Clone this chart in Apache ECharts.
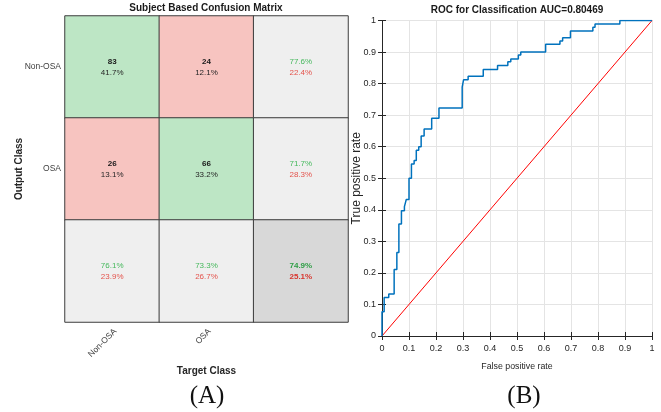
<!DOCTYPE html>
<html>
<head>
<meta charset="utf-8">
<script src="https://cdn.jsdelivr.net/npm/echarts@6/dist/echarts.min.js"></script>
<style>
html,body{margin:0;padding:0;background:#fff;}
#c{width:661px;height:412px;}
</style>
</head>
<body>
<div id="c"></div>
<script>
// ---- Confusion matrix data ----
const classes = ['Non-OSA', 'OSA'];
const counts = [[83, 24], [26, 66]];            // rows: output class, cols: target class
const cellPct = [['41.7%', '12.1%'], ['13.1%', '33.2%']];
const rowCorrect = ['77.6%', '71.7%'];
const rowWrong = ['22.4%', '28.3%'];
const colCorrect = ['76.1%', '73.3%'];
const colWrong = ['23.9%', '26.7%'];
const totalCorrect = '74.9%';
const totalWrong = '25.1%';

// ---- ROC data (step corners) ----
const fpr = [0, 0, 0.008, 0.025, 0.045, 0.055, 0.0625, 0.072, 0.083, 0.09, 0.1, 0.109, 0.119, 0.127, 0.136, 0.145, 0.156, 0.184, 0.211, 0.297, 0.302, 0.319, 0.375, 0.428, 0.466, 0.477, 0.505, 0.514, 0.606, 0.659, 0.669, 0.698, 0.781, 0.789, 0.881, 1.0];
const tpr = [0, 0.077, 0.122, 0.133, 0.211, 0.265, 0.355, 0.397, 0.41, 0.433, 0.5, 0.545, 0.556, 0.589, 0.6, 0.634, 0.656, 0.69, 0.723, 0.789, 0.812, 0.823, 0.845, 0.857, 0.869, 0.878, 0.891, 0.9, 0.925, 0.935, 0.945, 0.967, 0.979, 0.989, 1.0, 1.0];
const chanceX = [0, 1];
const chanceY = [0, 1];

const cmTitle = 'Subject Based Confusion Matrix';
const rocTitle = 'ROC for Classification AUC=0.80469';

const GREEN = '#bde6c5', RED = '#f7c4c0', GRAY = '#efefef', DGRAY = '#d8d8d8';
const cells = [];
const labels = [];
for (let r = 0; r < 3; r++) {
  for (let c = 0; c < 3; c++) {
    let color, txt;
    if (r < 2 && c < 2) {
      color = r === c ? GREEN : RED;
      txt = '{b|' + counts[r][c] + '}\n{n|' + cellPct[r][c] + '}';
    } else if (r < 2) {
      color = GRAY;
      txt = '{g|' + rowCorrect[r] + '}\n{r|' + rowWrong[r] + '}';
    } else if (c < 2) {
      color = GRAY;
      txt = '{g|' + colCorrect[c] + '}\n{r|' + colWrong[c] + '}';
    } else {
      color = DGRAY;
      txt = '{gb|' + totalCorrect + '}\n{rb|' + totalWrong + '}';
    }
    cells.push({ value: [c, r, 1], itemStyle: { color: color } });
    labels.push(txt);
  }
}

const F = '"Liberation Sans", Arial, Helvetica, sans-serif';
const richBase = { fontFamily: F, fontSize: 8, lineHeight: 11 };
const fmt1 = function (v) { return String(Math.round(v * 10) / 10); };

const chart = echarts.init(document.getElementById('c'), null, { renderer: 'canvas' });
chart.setOption({
  backgroundColor: '#ffffff',
  animation: false,
  grid: [
    { left: 65, top: 16, width: 283, height: 306 },
    { left: 382, top: 20.5, width: 270, height: 315.5 }
  ],
  xAxis: [
    {
      type: 'category', gridIndex: 0, data: classes.concat(['']),
      axisLine: { show: false }, axisTick: { show: false },
      axisLabel: { rotate: 45, margin: 5, verticalAlign: 'top', fontSize: 8.5, color: '#404040', fontFamily: F },
      name: 'Target Class', nameLocation: 'middle', nameGap: 44, nameMoveOverlap: false,
      nameTextStyle: { fontWeight: 'bold', fontSize: 10, color: '#262626', fontFamily: F }
    },
    {
      type: 'value', gridIndex: 1, min: 0, max: 1, interval: 0.1,
      axisLine: { show: true, lineStyle: { color: '#262626', width: 1 } },
      axisTick: { show: true, inside: true, length: 4, lineStyle: { color: '#262626' } },
      axisLabel: { margin: 8, fontSize: 9, color: '#262626', fontFamily: F, formatter: fmt1 },
      splitLine: { show: true, lineStyle: { color: '#e4e4e4', width: 1 } },
      name: 'False positive rate', nameLocation: 'middle', nameGap: 26, nameMoveOverlap: false,
      nameTextStyle: { fontSize: 8.8, color: '#262626', fontFamily: F }
    },
    {
      type: 'value', gridIndex: 1, min: 0, max: 1, interval: 0.1, position: 'top',
      axisLine: { show: true, lineStyle: { color: '#262626', width: 1 } },
      axisTick: { show: true, inside: true, length: 4, lineStyle: { color: '#262626' } },
      axisLabel: { show: false }, splitLine: { show: false }
    }
  ],
  yAxis: [
    {
      type: 'category', gridIndex: 0, data: classes.concat(['']), inverse: true,
      axisLine: { show: false }, axisTick: { show: false },
      axisLabel: { margin: 4, fontSize: 8.5, color: '#404040', fontFamily: F },
      name: 'Output Class', nameLocation: 'middle', nameGap: 41, nameMoveOverlap: false,
      nameTextStyle: { fontWeight: 'bold', fontSize: 10, color: '#262626', fontFamily: F }
    },
    {
      type: 'value', gridIndex: 1, min: 0, max: 1, interval: 0.1,
      axisLine: { show: true, lineStyle: { color: '#262626', width: 1 } },
      axisTick: { show: true, inside: true, length: 4, lineStyle: { color: '#262626' } },
      axisLabel: { margin: 6, fontSize: 9, color: '#262626', fontFamily: F, formatter: fmt1 },
      splitLine: { show: true, lineStyle: { color: '#e4e4e4', width: 1 } },
      name: 'True positive rate', nameLocation: 'middle', nameGap: 19, nameMoveOverlap: false,
      nameTextStyle: { fontSize: 12, color: '#262626', fontFamily: F }
    },
    {
      type: 'value', gridIndex: 1, min: 0, max: 1, interval: 0.1, position: 'right',
      axisLine: { show: true, lineStyle: { color: '#262626', width: 1 } },
      axisTick: { show: true, inside: true, length: 4, lineStyle: { color: '#262626' } },
      axisLabel: { show: false }, splitLine: { show: false }
    }
  ],
  series: [
    {
      type: 'heatmap', xAxisIndex: 0, yAxisIndex: 0, data: cells,
      itemStyle: { borderColor: '#3c3c3c', borderWidth: 1 },
      label: {
        show: true,
        formatter: function (p) { return labels[p.dataIndex]; },
        rich: {
          b: Object.assign({}, richBase, { fontWeight: 'bold', color: '#1a1a1a' }),
          n: Object.assign({}, richBase, { color: '#262626' }),
          g: Object.assign({}, richBase, { color: '#45b85c' }),
          r: Object.assign({}, richBase, { color: '#e4534c' }),
          gb: Object.assign({}, richBase, { fontWeight: 'bold', color: '#2e9e45' }),
          rb: Object.assign({}, richBase, { fontWeight: 'bold', color: '#d8342d' })
        }
      },
      emphasis: { disabled: true }
    },
    {
      type: 'line', xAxisIndex: 1, yAxisIndex: 1, step: 'end', symbol: 'none',
      data: fpr.map(function (x, i) { return [x, tpr[i]]; }),
      lineStyle: { color: '#0072bd', width: 1.5 }, z: 5
    },
    {
      type: 'line', xAxisIndex: 1, yAxisIndex: 1, symbol: 'none',
      data: chanceX.map(function (x, i) { return [x, chanceY[i]]; }),
      lineStyle: { color: '#ff0000', width: 1 }, z: 4
    }
  ],
  graphic: [
    { type: 'text', x: 206, y: 8, style: { text: cmTitle, align: 'center', verticalAlign: 'middle',
      font: 'bold 10px ' + F, fill: '#1a1a1a' } },
    { type: 'text', x: 517, y: 10.5, style: { text: rocTitle, align: 'center', verticalAlign: 'middle',
      font: 'bold 10px ' + F, fill: '#1a1a1a' } },
    { type: 'text', x: 207, y: 396, style: { text: '(A)', align: 'center', verticalAlign: 'middle',
      font: '25px "Liberation Serif", "Times New Roman", serif', fill: '#111' } },
    { type: 'text', x: 524, y: 396, style: { text: '(B)', align: 'center', verticalAlign: 'middle',
      font: '25px "Liberation Serif", "Times New Roman", serif', fill: '#111' } }
  ]
});
</script>
</body>
</html>
